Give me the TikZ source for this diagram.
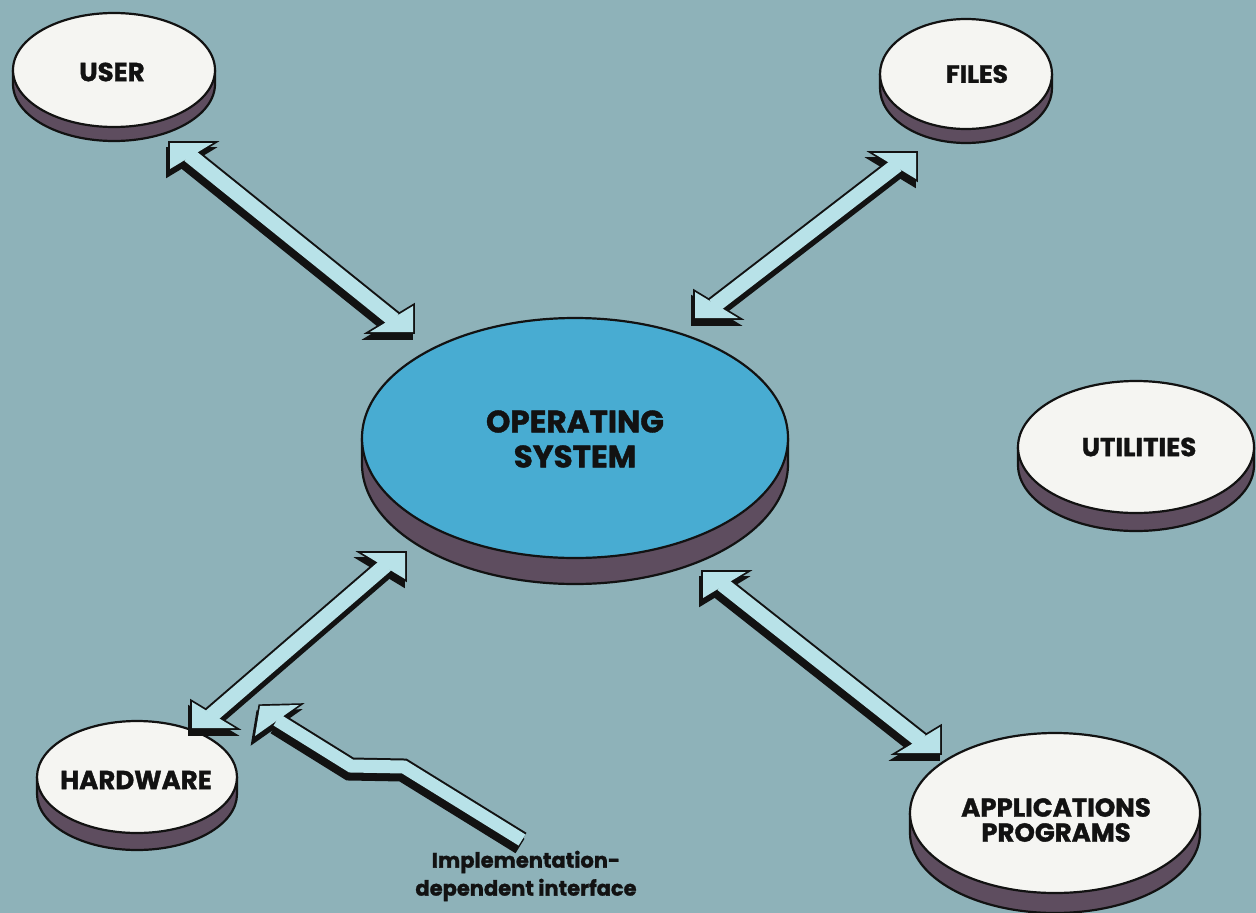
\documentclass[tikz,border=0pt]{standalone}
\usepackage{fontspec}
\setmainfont{Poppins}[BoldFeatures={FakeBold=1.3}]
\usetikzlibrary{calc,shapes.geometric}
\definecolor{bgc}{RGB}{142,178,185}
\definecolor{oscol}{RGB}{72,172,210}
\definecolor{sidecol}{RGB}{94,77,95}
\definecolor{discw}{RGB}{245,245,242}
\definecolor{arrowc}{RGB}{184,226,232}
\definecolor{ink}{RGB}{18,18,18}
\newcommand\fuser{\bfseries\fontsize{26}{30}\selectfont}
\newcommand\ffiles{\bfseries\fontsize{25}{30}\selectfont}
\newcommand\fhard{\bfseries\fontsize{26}{30}\selectfont}
\newcommand\futil{\bfseries\fontsize{26}{30}\selectfont}
\newcommand\fapp{\bfseries\fontsize{26}{25}\selectfont}
\newcommand\fos{\bfseries\fontsize{31}{35}\selectfont}
\newcommand\fimpl{\bfseries\fontsize{21}{28}\selectfont}
% disc: name, x, y, rx, ry, thickness, fill
\newcommand\disc[7]{%
  \fill[sidecol] (#2-#4,#3) -- (#2-#4,#3+#6) arc[start angle=180,end angle=0,x radius=#4,y radius=#5] -- (#2+#4,#3) -- cycle;
  \draw[ink,line width=2.2] (#2-#4,#3) -- (#2-#4,#3+#6) arc[start angle=180,end angle=0,x radius=#4,y radius=#5] -- (#2+#4,#3);
  \node[discnode,fill=#7,minimum width=2*#4,minimum height=2*#5] (#1) at (#2,#3) {};
}
% double block arrow heads: A, B, sx, sy, dx, dy
\newcommand\dblhead[6]{%
  ($(#1)+({#5},{#6})$) -- ($(#1)+({(#3)*43+#5},{#6})$) -- ($(#1)+({#5},{(#4)*26+#6})$) -- cycle
  ($(#2)+({#5},{#6})$) -- ($(#2)+({-(#3)*43+#5},{#6})$) -- ($(#2)+({#5},{-(#4)*26+#6})$) -- cycle}
\newcommand\dblshaft[6]{%
  ($(#1)+({(#3)*19+#5},{(#4)*12+#6})$) -- ($(#2)+({-(#3)*19+#5},{-(#4)*12+#6})$)}
\newcommand\dblarrow[4]{%
  % shadow
  \filldraw[ink,line width=3.6,line join=miter] \dblhead{#1}{#2}{#3}{#4}{-2}{6};
  \draw[ink,line width=19] \dblshaft{#1}{#2}{#3}{#4}{-2}{6};
  % outline
  \filldraw[ink,line width=3.6,line join=miter] \dblhead{#1}{#2}{#3}{#4}{0}{0};
  \draw[ink,line width=19] \dblshaft{#1}{#2}{#3}{#4}{0}{0};
  % fill
  \fill[arrowc] \dblhead{#1}{#2}{#3}{#4}{0}{0};
  \draw[arrowc,line width=15] \dblshaft{#1}{#2}{#3}{#4}{0}{0};
}
\begin{document}
\begin{tikzpicture}[x=1pt,y=-1pt,
  discnode/.style={ellipse,draw=ink,line width=2.2,inner sep=0pt},
  lab/.style={text=ink,align=center,inner sep=0pt}]
\useasboundingbox (0,0) rectangle (1256,913);
\fill[bgc] (0,0) rectangle (1256,913);

% discs
\disc{user}{114}{70}{101}{57}{14}{discw}
\disc{files}{966}{74}{86}{55}{14}{discw}
\disc{util}{1136}{447}{118}{66}{18}{discw}
\disc{os}{575}{438}{213}{120}{26}{oscol}
\disc{hard}{137}{777}{100}{56}{17}{discw}
\disc{app}{1055}{813}{145}{80}{20}{discw}

% disc labels
\node[lab,font=\fuser] (userlab) at (112,72) {USER};
\node[lab,font=\ffiles] (fileslab) at (977,74) {FILES};
\node[lab,font=\futil] (utillab) at (1139,447) {UTILITIES};
\node[lab,font=\fos] (oslab) at (575,439) {OPERATING\\SYSTEM};
\node[lab,font=\fhard] (hardlab) at (136,780) {HARDWARE};
\node[lab,font=\fapp] (applab) at (1056,820) {APPLICATIONS\\PROGRAMS};

% arrow tips
\coordinate (a1) at (170,143);
\coordinate (a2) at (413,332);
\coordinate (b1) at (695,318);
\coordinate (b2) at (916,153);
\coordinate (c1) at (192,728);
\coordinate (c2) at (405,553);
\coordinate (d1) at (703,572);
\coordinate (d2) at (940,753);

\dblarrow{a1}{a2}{1}{1}
\dblarrow{b1}{b2}{1}{-1}
\dblarrow{c1}{c2}{1}{-1}
\dblarrow{d1}{d2}{1}{1}

% implementation-dependent interface arrow
\coordinate (z0) at (260,706);
\coordinate (zh1) at (299,705);
\coordinate (zh2) at (255,736);
\coordinate (z1) at (277,720);
\coordinate (z2) at (351,766);
\coordinate (z3) at (404,767);
\coordinate (z4) at (522,840);
\filldraw[ink,line width=3.4,line join=miter] ($(z0)+(-2,6)$) -- ($(zh1)+(-2,6)$) -- ($(zh2)+(-2,6)$) -- cycle;
\draw[ink,line width=17,line join=miter] ($(z1)+(-2,6)$) -- ($(z2)+(-2,6)$) -- ($(z3)+(-2,6)$) -- ($(z4)+(-2,6)$);
\filldraw[ink,line width=3.4,line join=miter] (z0) -- (zh1) -- (zh2) -- cycle;
\draw[ink,line width=17,line join=miter] (z1) -- (z2) -- (z3) -- (z4);
\fill[arrowc] (z0) -- (zh1) -- (zh2) -- cycle;
\draw[arrowc,line width=13,line join=miter] (z1) -- (z2) -- (z3) -- (z4);

\node[lab,font=\fimpl] (impl) at (526,876) {Implementation-\\dependent interface};
\end{tikzpicture}
\end{document}
